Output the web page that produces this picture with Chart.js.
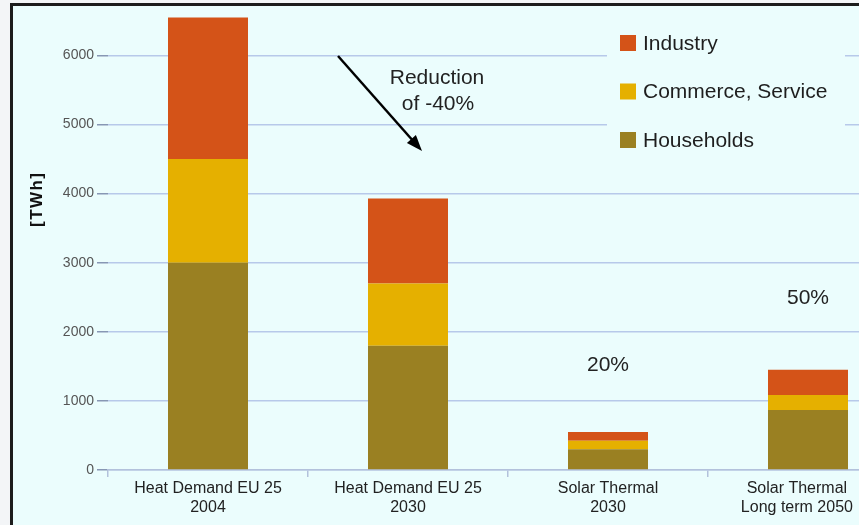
<!DOCTYPE html>
<html>
<head>
<meta charset="utf-8">
<script src="https://cdn.jsdelivr.net/npm/chart.js@4.4.1/dist/chart.umd.min.js"></script>
<style>
  html, body { margin: 0; padding: 0; width: 859px; height: 525px; overflow: hidden; background: #f3f5f7; }
  #frame { position: absolute; left: 10px; top: 3px; width: 900px; height: 560px; border: 3px solid #1c1c1c; background: #ebfdfd; }
  #wrap { position: absolute; left: 0; top: 0; width: 910px; height: 525px; }
</style>
</head>
<body>
<div id="frame"></div>
<div id="wrap"><canvas id="chart" width="910" height="525"></canvas></div>
<script>
// categories and series (TWh)
const categories = [
  ['Heat Demand EU 25', '2004'],
  ['Heat Demand EU 25', '2030'],
  ['Solar Thermal', '2030'],
  ['Solar Thermal', 'Long term 2050']
];
const households = [3000, 1800, 300, 870];
const commerce = [1500, 900, 125, 215];
const industry = [2050, 1230, 125, 365];
const yTicks = [0, 1000, 2000, 3000, 4000, 5000, 6000];

const FONT = '"Liberation Sans", Arial, sans-serif';
const BG = '#ebfdfd';

// draws the legend box, arrow and the percentage notes
const notes = {
  id: 'notes',
  afterDatasetsDraw(chart) {
    const ctx = chart.ctx;
    const x = chart.scales.x, y = chart.scales.y;
    ctx.save();

    // legend, top right, on its own background
    ctx.fillStyle = BG;
    ctx.fillRect(607, 24, 238, 136);
    const sets = chart.data.datasets.slice().reverse();
    ctx.font = '21px ' + FONT;
    ctx.textBaseline = 'middle';
    ctx.textAlign = 'left';
    sets.forEach((ds, i) => {
      const cy = 43 + i * 48.5;
      ctx.fillStyle = ds.backgroundColor;
      ctx.fillRect(620, cy - 8, 16, 16);
      ctx.fillStyle = '#1e1e1e';
      ctx.fillText(ds.label, 643, cy + 1);
    });

    // y axis title
    ctx.save();
    ctx.translate(37, 200);
    ctx.rotate(-Math.PI / 2);
    ctx.font = 'bold 17px ' + FONT;
    ctx.textAlign = 'center';
    ctx.fillStyle = '#111';
    ctx.fillText('[ T W h ]'.replace(/ /g, '\u200a'), 0, 0);
    ctx.restore();

    // reduction arrow
    const x0 = 338, y0 = 56, x1 = 422, y1 = 151;
    const ang = Math.atan2(y1 - y0, x1 - x0);
    ctx.strokeStyle = '#000';
    ctx.fillStyle = '#000';
    ctx.lineWidth = 2.5;
    ctx.beginPath();
    ctx.moveTo(x0, y0);
    ctx.lineTo(x1 - 10 * Math.cos(ang), y1 - 10 * Math.sin(ang));
    ctx.stroke();
    ctx.beginPath();
    ctx.moveTo(x1, y1);
    ctx.lineTo(x1 - 16 * Math.cos(ang) + 6 * Math.sin(ang), y1 - 16 * Math.sin(ang) - 6 * Math.cos(ang));
    ctx.lineTo(x1 - 16 * Math.cos(ang) - 6 * Math.sin(ang), y1 - 16 * Math.sin(ang) + 6 * Math.cos(ang));
    ctx.closePath();
    ctx.fill();

    ctx.font = '21px ' + FONT;
    ctx.textAlign = 'center';
    ctx.fillStyle = '#222';
    ctx.fillText('Reduction', 437, 78);
    ctx.fillText('of -40%', 438, 104);
    ctx.fillText('20%', x.getPixelForValue(2), y.getPixelForValue(1510));
    ctx.fillText('50%', x.getPixelForValue(3), y.getPixelForValue(2480));
    ctx.restore();
  }
};

new Chart(document.getElementById('chart'), {
  type: 'bar',
  data: {
    labels: categories,
    datasets: [
      { label: 'Households', data: households, backgroundColor: '#9a8022' },
      { label: 'Commerce, Service', data: commerce, backgroundColor: '#e5b000' },
      { label: 'Industry', data: industry, backgroundColor: '#d45318' }
    ]
  },
  options: {
    responsive: false,
    animation: false,
    devicePixelRatio: 1,
    layout: { padding: { top: 14, right: 2, left: 0, bottom: 0 } },
    datasets: { bar: { categoryPercentage: 1, barPercentage: 0.4 } },
    plugins: { legend: { display: false }, tooltip: { enabled: false } },
    scales: {
      x: {
        stacked: true,
        afterFit(s) { s.height = 55; },
        border: { color: '#b3c2dc', width: 1.5 },
        grid: { drawOnChartArea: false, drawTicks: true, tickLength: 7, color: '#b3c2dc', lineWidth: 1.5 },
        ticks: {
          color: '#222', padding: 2, font: { family: FONT, size: 16, lineHeight: 1.2 }, maxRotation: 0, autoSkip: false,
          // last label sits a little left of its bar so it stays inside the picture
          callback(v, i) {
            const lab = this.getLabelForValue(v);
            return i === categories.length - 1 ? lab.map(s => s + '     ') : lab;
          }
        }
      },
      y: {
        stacked: true,
        min: 0,
        max: 6600,
        afterFit(s) { s.width = 108; },
        afterBuildTicks(s) { s.ticks = yTicks.map(v => ({ value: v })); },
        border: { display: false },
        grid: { color: '#b7c9ea', lineWidth: 1.5, tickLength: 11, tickColor: '#8797b4' },
        ticks: { color: '#555', padding: 3, font: { family: FONT, size: 14 }, callback: v => String(v) }
      }
    }
  },
  plugins: [notes]
});
</script>
</body>
</html>
